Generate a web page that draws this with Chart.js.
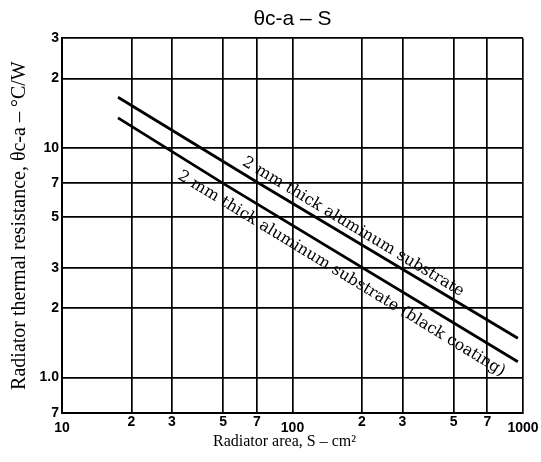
<!DOCTYPE html>
<html><head><meta charset="utf-8">
<script src="https://cdn.jsdelivr.net/npm/chart.js@4/dist/chart.umd.min.js"></script>
<style>html,body{margin:0;padding:0;background:#fff}canvas{display:block}</style>
</head><body>
<canvas id="c" width="541" height="462"></canvas>
<script>
const chartTitle = 'θc-a – S';
const xAxisTitle = 'Radiator area, S – cm²    ';
const yAxisTitle = 'Radiator thermal resistance, θc-a – °C/W';
const seriesNames = ['2 mm thick aluminum substrate', '2 mm thick aluminum substrate (black coating)'];
const areaUpper = [17.5, 70, 950];
const resUpper = [16.6, 7.1, 1.48];
const areaLower = [17.5, 50, 950];
const resLower = [13.5, 7.0, 1.17];
const xTickValues = [10, 20, 30, 50, 70, 100, 200, 300, 500, 700, 1000];
const xTickLabels = ['10', '2', '3', '5', '7', '100', '2', '3', '5', '7', '1000'];
const yTickValues = [0.7, 1, 2, 3, 5, 7, 10, 20, 30];
const yTickLabels = ['7', '1.0', '2', '3', '5', '7', '10', '2', '3'];
const decadeValues = [10, 100, 1000];

const ink = '#000';
const sans = '"Liberation Sans", Arial, sans-serif';
const serif = '"Liberation Serif", "Times New Roman", serif';

const lineLabelPlugin = {
  id: 'lineLabels',
  afterDatasetsDraw(chart) {
    const ctx = chart.ctx;
    const xs = chart.scales.x;
    const specs = [{ds: 0, at: 58, offset: -7}, {ds: 1, at: 35, offset: 20}];
    specs.forEach(s => {
      const pts = chart.getDatasetMeta(s.ds).data;
      const first = pts[0], last = pts[pts.length - 1];
      const ang = Math.atan2(last.y - first.y, last.x - first.x);
      const px = xs.getPixelForValue(s.at);
      let py = first.y;
      for (let i = 0; i < pts.length - 1; i++) {
        const a = pts[i], b = pts[i + 1];
        if (px >= a.x && px <= b.x) py = a.y + (b.y - a.y) * (px - a.x) / (b.x - a.x);
      }
      ctx.save();
      ctx.translate(px, py);
      ctx.rotate(ang);
      ctx.font = '15.8px "DejaVu Serif", serif';
      ctx.fillStyle = ink;
      ctx.textAlign = 'left';
      ctx.textBaseline = 'alphabetic';
      ctx.fillText(chart.data.datasets[s.ds].label, 0, s.offset);
      ctx.restore();
    });
  }
};

new Chart(document.getElementById('c'), {
  type: 'line',
  data: {
    datasets: [
      {label: seriesNames[0], data: areaUpper.map((x, i) => ({x: x, y: resUpper[i]})),
       borderColor: ink, borderWidth: 2.8, pointRadius: 0, fill: false, tension: 0},
      {label: seriesNames[1], data: areaLower.map((x, i) => ({x: x, y: resLower[i]})),
       borderColor: ink, borderWidth: 2.8, pointRadius: 0, fill: false, tension: 0}
    ]
  },
  options: {
    responsive: false, animation: false, devicePixelRatio: 1,
    layout: {padding: {left: 0, right: 18, top: 0, bottom: 0}},
    plugins: {
      legend: {display: false},
      tooltip: {enabled: false},
      title: {display: true, text: chartTitle, fullSize: false, color: ink,
        font: {family: sans, size: 21, weight: 'normal', lineHeight: 1.2},
        padding: {top: 7, bottom: 6}}
    },
    scales: {
      x: {
        type: 'logarithmic', position: 'bottom', min: 10, max: 1000,
        afterBuildTicks: s => { s.ticks = xTickValues.map(v => ({value: v})); },
        afterFit: s => { s.height = 49; },
        grid: {color: ink, lineWidth: 1.7, drawTicks: false},
        border: {color: ink, width: 2},
        ticks: {
          autoSkip: false, maxRotation: 0, minRotation: 0, padding: 2, color: ink,
          callback: (v, i) => xTickLabels[i],
          font: c => ({family: sans, size: 14, weight: 'bold',
            lineHeight: decadeValues.includes(xTickValues[c.index]) ? 1.9 : 1.0})
        },
        title: {display: true, text: xAxisTitle, color: ink,
          font: {family: serif, size: 16, lineHeight: 1.2}, padding: {top: 0, bottom: 11}}
      },
      y: {
        type: 'logarithmic', position: 'left', min: 0.7, max: 30,
        afterBuildTicks: s => { s.ticks = yTickValues.map(v => ({value: v})); },
        afterFit: s => { s.width = 62; },
        grid: {color: ink, lineWidth: 1.7, drawTicks: false},
        border: {color: ink, width: 2},
        ticks: {
          autoSkip: false, padding: 3, color: ink,
          callback: (v, i) => yTickLabels[i],
          font: {family: sans, size: 14, weight: 'bold', lineHeight: 1.0}
        },
        title: {display: true, text: yAxisTitle, color: ink,
          font: {family: serif, size: 20, lineHeight: 1.2}, padding: {top: 8, bottom: 0}}
      }
    }
  },
  plugins: [lineLabelPlugin]
});
</script>
</body></html>
